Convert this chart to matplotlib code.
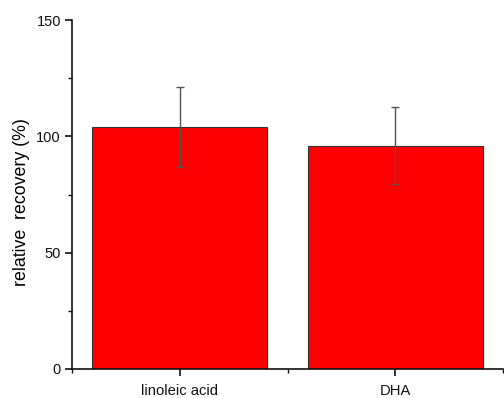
import matplotlib
matplotlib.use("Agg")
import matplotlib.pyplot as plt
from matplotlib.ticker import MultipleLocator

categories = ["linoleic acid", "DHA"]
recovery = [104, 96]
recovery_err = [17, 16.5]

plt.rcParams["font.family"] = ["Liberation Sans", "DejaVu Sans"]

fig = plt.figure(figsize=(5.04, 3.98), dpi=100)
W, H = 504, 398
ax = fig.add_axes([72 / W, 1 - 369 / H, (503 - 72) / W, (369 - 20) / H])

pos = [1, 2]
ax.bar(pos, recovery, width=0.81, color="#ff0000", edgecolor="#333333",
       linewidth=0.8, zorder=2)
ax.errorbar(pos, recovery, yerr=recovery_err, fmt="none", ecolor="#555555",
            elinewidth=1.0, capsize=3, capthick=1.0, zorder=3)

ax.set_xlim(0.5, 2.5)
ax.set_ylim(0, 150)
ax.set_xticks(pos)
ax.set_xticklabels(categories)
ax.xaxis.set_minor_locator(MultipleLocator(0.5))
ax.yaxis.set_major_locator(MultipleLocator(50))
ax.yaxis.set_minor_locator(MultipleLocator(25))

for side in ("top", "right"):
    ax.spines[side].set_visible(False)
for side in ("left", "bottom"):
    ax.spines[side].set_linewidth(1.2)
    ax.spines[side].set_color("#111111")

ax.tick_params(which="major", direction="out", length=5, width=1.2,
               labelsize=10.5, colors="#111111", pad=3)
ax.tick_params(which="minor", direction="out", length=3, width=1.0,
               colors="#111111")
ax.tick_params(axis="x", which="major", labelsize=10.6, pad=6)

ax.set_ylabel("relative  recovery (%)", fontsize=12.8)
ax.yaxis.set_label_coords(-0.0975, 0.477)

fig.savefig("out.png", dpi=100)
